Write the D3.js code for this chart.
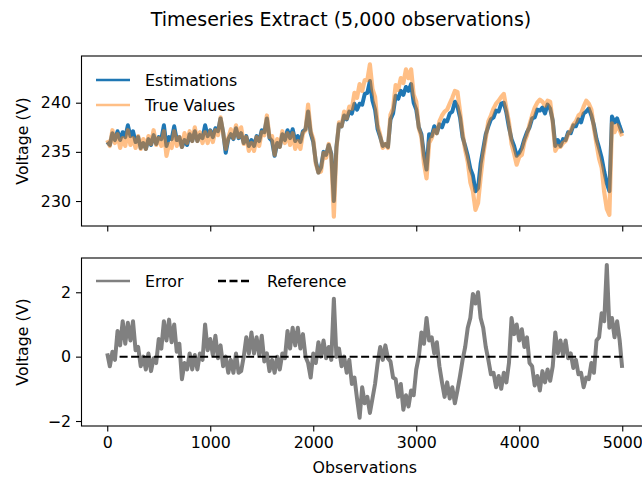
<!DOCTYPE html>
<html><head><meta charset="utf-8">
<script src="https://cdn.jsdelivr.net/npm/d3@7"></script>
<style>body{margin:0;background:#fff} text{font-family:"DejaVu Sans",sans-serif;fill:#000}</style>
</head><body><svg id="c" width="642" height="478"></svg>
<script>
// ---- data (one value every 25 observations, last = 4999) ----
const observations = d3.range(0, 5000, 25).concat([4999]);
const estimations = [
 236.0,235.7,236.9,236.2,237.1,236.2,237.0,236.5,237.7,236.6,237.1,236.0,236.5,235.4,235.9,235.3,236.3,235.7,236.7,235.8,
 236.5,236.3,237.7,235.6,236.5,236.3,237.6,236.2,236.5,235.5,236.2,235.7,236.8,236.1,237.1,236.1,236.7,236.4,237.7,236.6,
 237.2,236.5,237.4,237.1,238.4,237.0,234.9,236.3,236.8,236.3,237.4,236.4,236.9,235.9,236.6,235.6,236.2,235.6,236.6,236.1,
 237.2,237.0,238.4,236.4,236.1,234.6,235.9,235.5,236.8,236.2,237.2,236.4,237.3,236.1,236.6,236.0,237.1,237.3,239.1,236.9,
 236.0,234.0,232.9,233.4,235.0,234.7,235.7,234.8,230.0,235.5,237.8,237.6,238.7,238.3,239.1,238.9,239.9,239.3,239.9,239.8,
 240.9,241.0,242.2,240.2,239.3,237.3,236.5,235.6,235.8,235.5,238.3,238.9,240.7,240.4,241.2,240.8,241.6,241.2,241.9,240.0,
 239.3,237.5,236.8,234.7,233.2,236.8,236.6,237.6,236.9,237.8,237.5,238.2,238.1,238.9,239.1,240.1,239.6,238.5,236.5,235.6,
 234.6,233.3,232.6,231.0,231.3,233.8,235.3,236.8,237.6,238.3,238.5,239.2,239.1,239.9,240.0,239.0,237.5,236.3,235.6,234.6,
 234.9,235.4,236.3,237.0,237.5,238.4,238.5,239.3,239.2,239.5,238.9,239.8,239.4,238.2,235.6,236.2,235.6,236.3,236.2,237.0,
 236.9,237.7,237.6,238.3,238.0,238.9,239.1,239.4,238.7,237.7,236.3,235.4,234.4,233.0,231.8,231.0,238.6,238.0,238.4,237.6,
 236.9];
const trueValues = [
 236.2,235.6,237.2,235.9,236.8,235.4,236.4,235.6,237.2,235.7,236.4,235.4,236.6,235.3,236.3,235.3,236.6,235.8,237.2,235.7,
 236.4,235.6,237.1,234.6,235.8,235.4,237.1,235.6,236.5,235.5,236.9,235.9,237.1,236.1,237.5,236.1,237.0,235.9,237.0,235.9,
 237.1,236.0,237.2,236.7,238.5,236.9,235.3,236.4,237.3,236.4,237.7,236.5,237.5,235.8,236.5,235.1,235.9,235.1,236.5,235.6,
 237.0,236.7,238.7,236.5,236.6,234.7,236.3,235.5,237.1,235.9,236.9,235.7,236.9,235.3,236.1,235.3,236.9,237.2,239.8,237.1,
 236.3,233.8,232.9,233.0,234.9,234.4,235.8,234.6,228.4,235.3,238.0,237.6,239.1,238.4,239.6,239.4,241.0,240.5,241.9,241.2,
 242.3,242.3,243.9,241.4,240.6,237.7,236.7,235.4,235.8,235.4,238.8,239.4,241.8,241.3,242.5,242.0,243.4,242.5,243.4,240.8,
 240.1,237.4,236.5,233.8,232.3,235.9,236.4,237.2,236.9,238.1,238.7,239.1,239.3,239.9,240.5,241.2,241.1,239.1,236.9,235.2,
 234.0,231.9,231.0,229.1,229.8,232.4,234.7,236.4,238.1,238.7,239.4,239.9,240.2,240.6,240.9,239.4,238.0,235.8,234.8,233.7,
 234.5,234.7,236.0,236.7,237.8,238.7,239.5,240.0,240.3,240.1,239.7,240.2,240.1,238.0,235.1,235.6,235.5,235.9,236.1,236.8,
 237.2,237.8,238.1,238.7,238.9,239.6,240.2,239.9,239.3,237.4,235.8,234.3,233.4,230.9,229.2,228.6,237.9,237.0,237.7,237.2,
 236.6];
const errors = [
 0.1,-0.3,0.15,-0.1,0.8,0.35,1.1,0.4,1.05,0.5,1.1,0.2,0.3,-0.3,0.0,-0.4,0.1,-0.45,-0.05,-0.2,
 0.55,0.25,1.1,0.5,1.15,0.45,1.0,0.15,0.4,-0.7,-0.2,-0.4,0.1,-0.4,0.05,-0.4,0.1,-0.1,1.0,0.2,
 0.55,0.05,0.65,-0.05,0.35,-0.3,0.0,-0.5,-0.1,-0.5,0.1,-0.5,-0.45,0.0,0.6,0.1,0.75,0.1,0.6,0.05,
 0.65,-0.15,0.1,-0.45,-0.1,-0.5,0.0,-0.4,0.1,-0.05,0.8,0.25,0.9,0.35,0.9,0.25,0.7,0.0,-0.2,-0.65,
 0.1,-0.2,0.45,0.0,0.5,-0.05,0.3,-0.1,1.8,0.0,0.25,-0.3,0.0,-0.5,-0.1,-0.85,-0.65,-1.3,-1.9,-0.95,
 -1.45,-1.25,-1.75,-1.3,-0.85,-0.2,0.3,-0.1,0.35,-0.05,-0.15,-0.65,-0.7,-1.25,-0.85,-1.65,-1.2,-1.55,-1.05,-1.2,
 -0.4,0.0,0.75,0.4,1.2,0.5,0.6,0.1,0.45,-0.3,-0.8,-1.25,-0.8,-1.3,-0.95,-1.45,-1.05,-0.6,-0.1,0.3,
 0.9,1.2,1.95,1.65,2.0,1.2,0.9,0.3,-0.1,-0.55,-0.5,-0.95,-0.6,-1.0,-0.5,-0.8,-0.2,1.2,0.7,1.0,
 0.5,0.85,0.3,0.6,-0.2,-0.3,-0.9,-0.6,-1.05,-0.45,-0.8,-0.4,-0.75,-0.3,0.75,0.1,0.5,0.05,0.5,-0.05,
 0.1,-0.35,-0.1,-0.55,-0.5,-0.95,-0.65,-0.7,-0.2,-0.5,0.5,0.6,1.35,1.1,2.85,0.9,1.2,0.6,1.1,0.5,
 -0.35];
const referenceObs = [120, 4999];
const referenceValues = [0, 0];
const xTicks = [0,1000,2000,3000,4000,5000];
const topYTicks = [230,235,240];
const bottomYTicks = [-2,0,2];
const xLim = [-250, 5249];
const topYLim = [227.46, 244.75];
const bottomYLim = [-2.155, 3.065];

// ---- layout ----
const svg = d3.select("#c");
const L = 81.5, R = 647.9;
const top1 = 56, bot1 = 226, top2 = 258, bot2 = 426;
const x = d3.scaleLinear().domain(xLim).range([L, R]);
const y1 = d3.scaleLinear().domain(topYLim).range([bot1, top1]);
const y2 = d3.scaleLinear().domain(bottomYLim).range([bot2, top2]);
const FS = 15.8;

const defs = svg.append("defs");
defs.append("clipPath").attr("id","c1").append("rect").attr("x",L).attr("y",top1).attr("width",R-L).attr("height",bot1-top1);
defs.append("clipPath").attr("id","c2").append("rect").attr("x",L).attr("y",top2).attr("width",R-L).attr("height",bot2-top2);

svg.append("text").attr("x",341).attr("y",26).attr("text-anchor","middle")
  .style("font-size","19px").text("Timeseries Extract (5,000 observations)");

function styleAxis(g){
  g.selectAll(".domain").remove();
  g.selectAll(".tick line").attr("stroke","#000").attr("stroke-width",1.1);
  g.selectAll(".tick text").style("font-size",FS+"px").style("font-family","DejaVu Sans");
}
const fmt = d => d3.format("")(d).replace("-","\u2212");

svg.append("g").attr("transform",`translate(${L},0)`)
  .call(d3.axisLeft(y1).tickValues(topYTicks).tickSize(5.5).tickPadding(5).tickFormat(fmt)).call(styleAxis);
svg.append("g").attr("transform",`translate(0,${bot1})`)
  .call(d3.axisBottom(x).tickValues(xTicks).tickSize(5.5).tickFormat("")).call(styleAxis);
svg.append("g").attr("transform",`translate(${L},0)`)
  .call(d3.axisLeft(y2).tickValues(bottomYTicks).tickSize(5.5).tickPadding(5).tickFormat(fmt)).call(styleAxis);
svg.append("g").attr("transform",`translate(0,${bot2})`)
  .call(d3.axisBottom(x).tickValues(xTicks).tickSize(5.5).tickPadding(5).tickFormat(d3.format("d"))).call(styleAxis);

// lines
const pts = vals => observations.map((o,i)=>[o,vals[i]]);
const line1 = d3.line().x(d=>x(d[0])).y(d=>y1(d[1]));
const line2 = d3.line().x(d=>x(d[0])).y(d=>y2(d[1]));
const g1 = svg.append("g").attr("clip-path","url(#c1)");
g1.append("path").attr("d",line1(pts(estimations))).attr("fill","none").attr("stroke","#1f77b4")
  .attr("stroke-width",4).attr("stroke-linejoin","round");
g1.append("path").attr("d",line1(pts(trueValues))).attr("fill","none").attr("stroke","#ff7f0e")
  .attr("stroke-opacity",0.5).attr("stroke-width",4.2).attr("stroke-linejoin","round");
const g2 = svg.append("g").attr("clip-path","url(#c2)");
g2.append("path").attr("d",line2(pts(errors))).attr("fill","none").attr("stroke","#808080")
  .attr("stroke-width",4).attr("stroke-linejoin","round");
g2.append("path").attr("d",line2(referenceObs.map((o,i)=>[o,referenceValues[i]]))).attr("fill","none")
  .attr("stroke","#000").attr("stroke-width",2).attr("stroke-dasharray","8,3.5");

// spines
[[top1,bot1],[top2,bot2]].forEach(([t,b])=>{
  svg.append("rect").attr("x",L).attr("y",t).attr("width",R-L).attr("height",b-t)
    .attr("fill","none").attr("stroke","#000").attr("stroke-width",1.1);
});

// axis labels
svg.append("text").attr("transform",`translate(22,${(top1+bot1)/2}) rotate(-90)`).attr("text-anchor","middle")
  .attr("dominant-baseline","central").style("font-size",FS+"px").text("Voltage (V)");
svg.append("text").attr("transform",`translate(22,${(top2+bot2)/2}) rotate(-90)`).attr("text-anchor","middle")
  .attr("dominant-baseline","central").style("font-size",FS+"px").text("Voltage (V)");
svg.append("text").attr("x",(L+R)/2).attr("y",473).attr("text-anchor","middle")
  .style("font-size",FS+"px").text("Observations");

// legends
function legendItem(x0,yy,color,opacity,dash,label,x1){
  svg.append("line").attr("x1",x0).attr("x2",x0+34).attr("y1",yy).attr("y2",yy)
    .attr("stroke",color).attr("stroke-opacity",opacity).attr("stroke-width",2.4)
    .attr("stroke-dasharray",dash);
  svg.append("text").attr("x",x1).attr("y",yy).attr("dominant-baseline","central")
    .style("font-size",FS+"px").text(label);
}
legendItem(96,80,"#1f77b4",1,null,"Estimations",145);
legendItem(96,105,"#ff7f0e",0.5,null,"True Values",145);
legendItem(96,281,"#808080",1,null,"Error",145);
legendItem(218,281,"#000",1,"8,3.5","Reference",267);
</script></body></html>
